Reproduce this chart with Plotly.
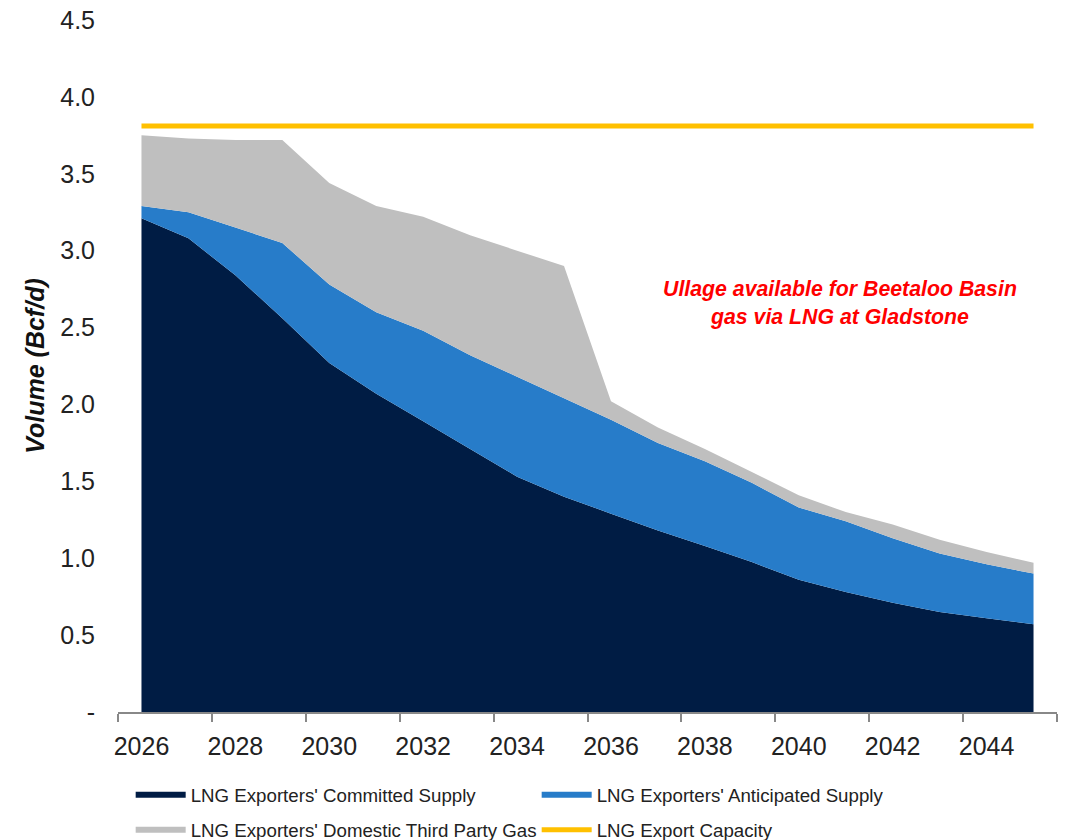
import plotly.graph_objects as go

years = list(range(2026, 2046))
committed = [3.21, 3.08, 2.84, 2.56, 2.27, 2.07, 1.89, 1.71, 1.53, 1.40,
             1.29, 1.18, 1.08, 0.975, 0.86, 0.78, 0.71, 0.65, 0.61, 0.57]
anticipated = [0.08, 0.17, 0.31, 0.49, 0.51, 0.53, 0.59, 0.61, 0.65, 0.64,
               0.61, 0.57, 0.55, 0.515, 0.47, 0.46, 0.42, 0.38, 0.35, 0.33]
third_party = [0.46, 0.48, 0.57, 0.67, 0.66, 0.69, 0.74, 0.78, 0.82, 0.86,
               0.12, 0.10, 0.08, 0.07, 0.08, 0.06, 0.09, 0.09, 0.08, 0.07]
capacity = [3.81] * 20

y_ticks = [0, 0.5, 1.0, 1.5, 2.0, 2.5, 3.0, 3.5, 4.0, 4.5]
y_labels = ["-", "0.5", "1.0", "1.5", "2.0", "2.5", "3.0", "3.5", "4.0", "4.5"]
x_ticks = list(range(2026, 2046, 2))

FONT = "Liberation Sans, Arial, sans-serif"

fig = go.Figure()
fig.add_trace(go.Scatter(x=years, y=committed, name="LNG Exporters' Committed Supply",
                         stackgroup="s", mode="none", fillcolor="#001C44", legend="legend"))
fig.add_trace(go.Scatter(x=years, y=anticipated, name="LNG Exporters' Anticipated Supply",
                         stackgroup="s", mode="none", fillcolor="#277CC9", legend="legend"))
fig.add_trace(go.Scatter(x=years, y=third_party, name="LNG Exporters' Domestic Third Party Gas",
                         stackgroup="s", mode="none", fillcolor="#BFBFBF", legend="legend2"))
fig.add_trace(go.Scatter(x=years, y=capacity, name="LNG Export Capacity",
                         mode="lines", line=dict(color="#FFC000", width=5), legend="legend2"))

fig.add_annotation(x=2040.87, y=2.66, xref="x", yref="y",
                   text="<b><i>Ullage available for Beetaloo Basin<br>gas via LNG at Gladstone</i></b>",
                   showarrow=False, font=dict(family=FONT, size=21.3, color="#FF0000"))

legend_common = dict(orientation="h", x=0.0135, xanchor="left", yanchor="middle",
                     entrywidth=341, entrywidthmode="pixels",
                     font=dict(family=FONT, size=18.7, color="#222222"),
                     traceorder="normal", itemwidth=50, bgcolor="rgba(0,0,0,0)")

fig.update_layout(
    width=1061, height=832,
    margin=dict(l=110, r=12, t=12, b=128, autoexpand=False),
    paper_bgcolor="white", plot_bgcolor="white",
    font=dict(family=FONT, color="#222222"),
    showlegend=True,
    legend=dict(y=-0.12, **legend_common),
    legend2=dict(y=-0.1705, **legend_common),
)
fig.update_xaxes(range=[2025.5, 2045.5], tickvals=x_ticks, ticktext=[str(v) for v in x_ticks],
                 ticks="", showgrid=False, zeroline=False, automargin=False,
                 showline=True, linecolor="#888888", linewidth=2,
                 ticklabelstandoff=11, ticklabeloverflow="allow",
                 tickfont=dict(family=FONT, size=25, color="#222222"),
                 minor=dict(tick0=2025.5, dtick=2, ticks="outside", ticklen=8,
                            tickcolor="#888888", tickwidth=2, showgrid=False))
fig.update_yaxes(range=[0, 4.5], tickvals=y_ticks, ticktext=y_labels,
                 showgrid=False, zeroline=False, showline=False, ticks="",
                 automargin=False, ticklabelstandoff=22, ticklabeloverflow="allow",
                 tickfont=dict(family=FONT, size=25, color="#222222"),
                 title=dict(text="<b><i>Volume (Bcf/d)</i></b>", standoff=8,
                            font=dict(family=FONT, size=25, color="#111111")))

fig.write_html("out.html")
